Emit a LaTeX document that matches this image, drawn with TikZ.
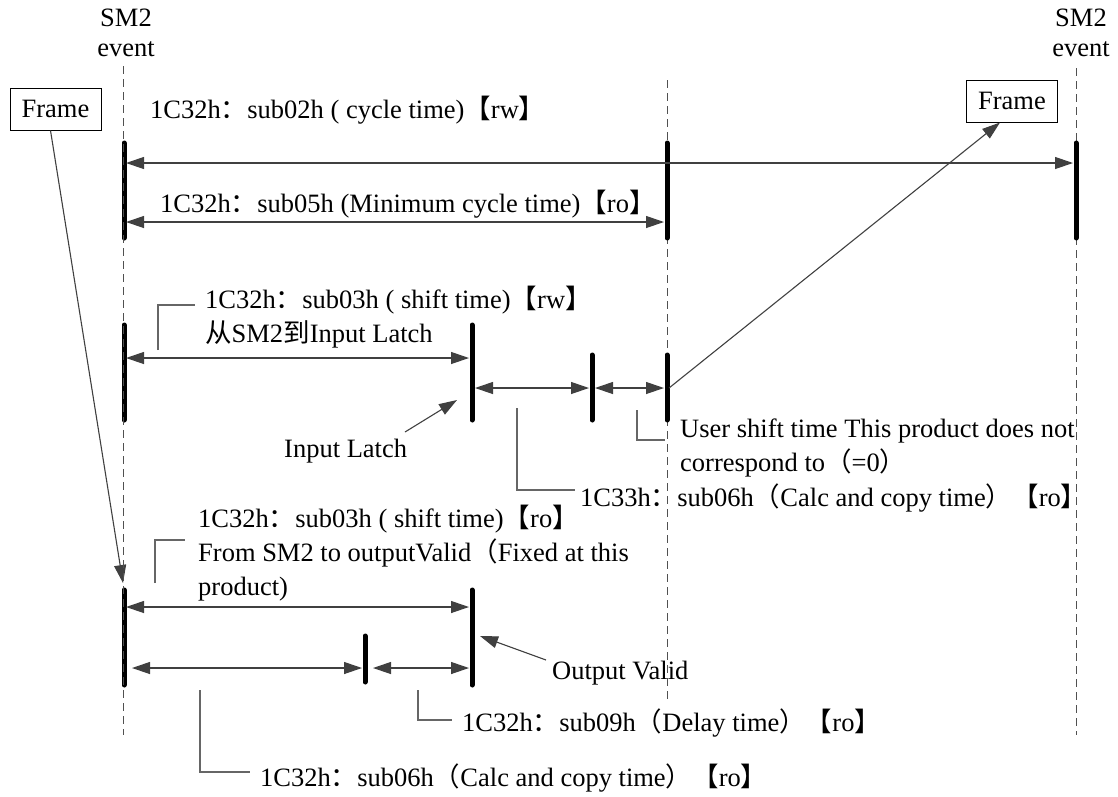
\documentclass[tikz,border=0pt]{standalone}
\usepackage{fontspec}
\setmainfont{Liberation Serif}
\newfontfamily\cjk{Noto Sans CJK SC}
\newcommand{\zh}[1]{{\cjk #1}}
\usetikzlibrary{arrows.meta}
\definecolor{cLine}{HTML}{404040}
\definecolor{cGuide}{HTML}{505050}

\begin{document}
\begin{tikzpicture}[x=1pt,y=-1pt,
  guide/.style={cGuide,dashed,dash pattern=on 8pt off 5pt,line width=0.9pt},
  bar/.style={black,line width=5pt,line cap=round},
  dim/.style={cLine,line width=1.2pt,{Triangle[length=18pt,width=12pt]}-{Triangle[length=18pt,width=12pt]}},
  pointer/.style={cLine,line width=1.1pt,-{Triangle[length=18pt,width=12pt]}},
  lead/.style={cLine!80,line width=1.2pt},
  lbl/.style={anchor=base west,align=left,inner sep=0pt,font=\fontsize{26.5}{34}\selectfont},
  framebox/.style={draw,line width=1pt,minimum width=91pt,minimum height=42pt,inner sep=0pt,font=\fontsize{26.5}{28}\selectfont}]
\useasboundingbox (0,0) rectangle (1118,796);

%============================ SM2 events ============================
\node[lbl,align=center,anchor=base,font=\fontsize{26.5}{30}\selectfont] (smL) at (126,56) {SM2\\event};
\node[lbl,align=center,anchor=base,font=\fontsize{26.5}{30}\selectfont] (smR) at (1081,56) {SM2\\event};
\draw[guide] (667,80) -- (667,700);
\draw[guide] (1076,68) -- (1076,735);

%============================ cycle time ============================
\coordinate (t1a) at (124,143); \coordinate (t1b) at (124,238);
\coordinate (t2a) at (667,143); \coordinate (t2b) at (667,238);
\coordinate (t3a) at (1076,143); \coordinate (t3b) at (1076,238);
\draw[bar] (t1a) -- (t1b); \draw[bar] (t2a) -- (t2b); \draw[bar] (t3a) -- (t3b);
\coordinate (c1) at (126,163); \coordinate (c2) at (1073,163);
\coordinate (m1) at (126,222); \coordinate (m2) at (664,222);
\draw[dim] (c1) -- (c2);
\draw[dim] (m1) -- (m2);
\node[lbl] (cyc) at (150,118) {1C32h\zh{：}sub02h ( cycle time)\zh{【}rw\zh{】}};
\node[lbl] (mincyc) at (160,212) {1C32h\zh{：}sub05h (Minimum cycle time)\zh{【}ro\zh{】}};

%============================ input latch ============================
\coordinate (i1a) at (124,325); \coordinate (i1b) at (124,420);
\coordinate (i2a) at (472,325); \coordinate (i2b) at (472,420);
\coordinate (i3a) at (592,355); \coordinate (i3b) at (592,420);
\coordinate (i4a) at (667,355); \coordinate (i4b) at (667,420);
\draw[bar] (i1a) -- (i1b); \draw[bar] (i2a) -- (i2b);
\draw[bar] (i3a) -- (i3b); \draw[bar] (i4a) -- (i4b);
\coordinate (s1) at (126,358); \coordinate (s2) at (469,358);
\coordinate (k1) at (475,388); \coordinate (k2) at (589,388);
\coordinate (k3) at (595,388); \coordinate (k4) at (664,388);
\draw[dim] (s1) -- (s2);
\draw[dim] (k1) -- (k2);
\draw[dim] (k3) -- (k4);
\node[lbl] (shiftin) at (205,342) {1C32h\zh{：}sub03h ( shift time)\zh{【}rw\zh{】}\\\zh{从}SM2\zh{到}Input Latch};
\draw[lead] (158,350) |- (195,305);
\node[lbl] (inlatch) at (284,457) {Input Latch};
\coordinate (il) at (457,400);
\draw[pointer] (405,432) -- (il);
\node[lbl] (user) at (680,471) {User shift time This product does not\\correspond to\zh{（}=0\zh{）}};
\draw[lead] (637,410) |- (665,440);
\node[lbl] (calcin) at (580,506) {1C33h\zh{：}sub06h\zh{（}Calc and copy time\zh{）【}ro\zh{】}};
\draw[lead] (517,408) |- (575,490);

%============================ output valid ============================
\coordinate (o1a) at (124,590); \coordinate (o1b) at (124,685);
\coordinate (o2a) at (472,590); \coordinate (o2b) at (472,685);
\coordinate (o3a) at (365,636); \coordinate (o3b) at (365,682);
\draw[bar] (o1a) -- (o1b); \draw[bar] (o2a) -- (o2b); \draw[bar] (o3a) -- (o3b);
\coordinate (v1) at (126,607); \coordinate (v2) at (469,607);
\coordinate (d1) at (132,668); \coordinate (d2) at (362,668);
\coordinate (d3) at (373,668); \coordinate (d4) at (469,668);
\draw[dim] (v1) -- (v2);
\draw[dim] (d1) -- (d2);
\draw[dim] (d3) -- (d4);
\node[lbl] (shiftout) at (198,595) {1C32h\zh{：}sub03h ( shift time)\zh{【}ro\zh{】}\\From SM2 to outputValid\zh{（}Fixed at this\\product)};
\draw[lead] (155,583) |- (185,540);
\node[lbl] (outvalid) at (552,679) {Output Valid};
\coordinate (ov) at (480,636);
\draw[pointer] (546,660) -- (ov);
\node[lbl] (delay) at (462,731) {1C32h\zh{：}sub09h\zh{（}Delay time\zh{）【}ro\zh{】}};
\draw[lead] (418,690) |- (452,720);
\node[lbl] (calcout) at (260,786) {1C32h\zh{：}sub06h\zh{（}Calc and copy time\zh{）【}ro\zh{】}};
\draw[lead] (200,690) |- (250,772);

%============================ frames ============================
\node[framebox] (frL) at (55.5,109) {Frame};
\node[framebox] (frR) at (1012,101) {Frame};
\coordinate (fL) at (123,583);
\coordinate (fR) at (669,388);
\draw[pointer] (frL.south) ++(-5,0) -- (fL);
\draw[pointer] (fR) -- ([xshift=-12pt]frR.south);
\draw[guide] (123,66) -- (123,735);

\end{tikzpicture}
\end{document}
